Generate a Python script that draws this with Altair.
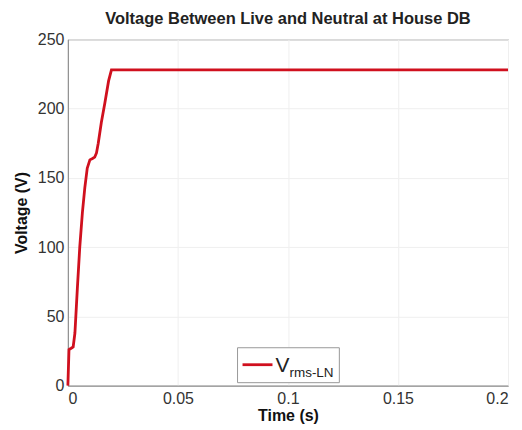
import altair as alt
import pandas as pd

time_s = [0.0, 0.0005, 0.0015, 0.0024, 0.0032, 0.0043, 0.0054, 0.0066, 0.0077, 0.0088, 0.0100,
          0.0112, 0.0122, 0.0130, 0.0138, 0.0152, 0.0168, 0.0185, 0.0198, 0.0205, 0.05, 0.1, 0.15, 0.2]
voltage = [0, 26, 27, 28, 38, 70, 100, 125, 143, 157, 163,
           164, 165, 168, 175, 190, 204, 220, 228, 228, 228, 228, 228, 228]
series_main = "V"
series_sub = "rms-LN"

df = pd.DataFrame({"t": time_s, "v": voltage})

W, H = 441, 347
font = "Liberation Sans"
red = "#d0101e"

base = alt.Chart(df)

line = base.mark_line(color=red, strokeWidth=2.8).encode(
    x=alt.X("t:Q", scale=alt.Scale(domain=[0, 0.2], nice=False),
            axis=alt.Axis(values=[0, 0.05, 0.1, 0.15, 0.2], format="~g", title="Time (s)",
                          tickSize=0, labelPadding=5, titlePadding=1,
                          grid=True, gridColor="#efefef", domainColor="#888")),
    y=alt.Y("v:Q", scale=alt.Scale(domain=[0, 250], nice=False),
            axis=alt.Axis(values=[0, 50, 100, 150, 200, 250], title="Voltage (V)",
                          tickSize=0, labelPadding=4, titlePadding=8,
                          grid=True, gridColor="#efefef", domainColor="#888")),
)

one = pd.DataFrame({"a": [0]})

legend_box = alt.Chart(one).mark_rect(
    fill="white", stroke="#999", strokeWidth=1
).encode(x=alt.value(170), x2=alt.value(272), y=alt.value(309), y2=alt.value(344))

legend_line = alt.Chart(one).mark_rule(
    color=red, strokeWidth=2.8
).encode(x=alt.value(175), x2=alt.value(205), y=alt.value(326))

legend_v = alt.Chart(pd.DataFrame({"s": [series_main]})).mark_text(
    align="left", baseline="alphabetic", fontSize=21, font=font, color="#222"
).encode(x=alt.value(208), y=alt.value(333), text="s:N")

legend_sub = alt.Chart(pd.DataFrame({"s": [series_sub]})).mark_text(
    align="left", baseline="alphabetic", fontSize=13.5, font=font, color="#222"
).encode(x=alt.value(222), y=alt.value(338), text="s:N")

chart = alt.layer(line, legend_box, legend_line, legend_v, legend_sub).properties(
    width=W, height=H,
    title=alt.TitleParams("Voltage Between Live and Neutral at House DB",
                          font=font, fontSize=16.5, fontWeight="bold", color="#222", offset=4),
    autosize=alt.AutoSizeParams(type="none"),
    padding={"left": 60, "top": 31, "right": 6, "bottom": 40},
).configure_view(stroke="#888", strokeWidth=1).configure_axis(
    labelFont=font, labelFontSize=16, labelColor="#333",
    titleFont=font, titleFontSize=16, titleFontWeight="bold", titleColor="#111"
)

chart.save("out.html", embed_options={"renderer": "svg", "actions": False})
